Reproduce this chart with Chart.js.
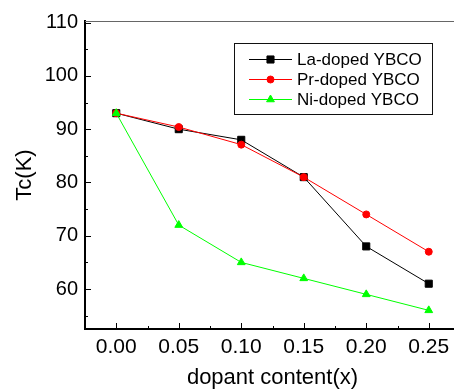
<!DOCTYPE html>
<html>
<head>
<meta charset="utf-8">
<script src="https://cdn.jsdelivr.net/npm/chart.js@4"></script>
<style>
  body { margin: 0; overflow: hidden; background: #fff; }
</style>
</head>
<body>
<canvas id="tcChart" width="466" height="390"></canvas>
<script>
const dopant = [0, 0.05, 0.10, 0.15, 0.20, 0.25];
const laDoped = [93, 90, 88, 81, 68, 61];
const prDoped = [93, 90.4, 87.1, 81, 74, 67];
const niDoped = [93, 72, 65, 62, 59, 56];
const seriesNames = ["La-doped YBCO", "Pr-doped YBCO", "Ni-doped YBCO"];
const xTicks = [0, 0.05, 0.10, 0.15, 0.20, 0.25];
const yTicks = [60, 70, 80, 90, 100, 110];
const xMinor = [0.025, 0.075, 0.125, 0.175, 0.225, 0.275];
const yMinor = [55, 65, 75, 85, 95, 105];

const FONT = "'Liberation Sans', Arial, sans-serif";
Chart.defaults.font.family = FONT;
Chart.defaults.color = "#000";

function pts(values) {
    return dopant.map((x, i) => ({ x: x, y: values[i] }));
}

// ticks point inward, plus the grey top frame line
const frameTicks = {
    id: "frameTicks",
    afterDraw(chart) {
        const { ctx, chartArea: a, scales: { x, y } } = chart;
        ctx.save();
        ctx.strokeStyle = "#666";
        ctx.lineWidth = 1;
        ctx.beginPath();
        ctx.moveTo(a.left, a.top + 0.5);
        ctx.lineTo(a.right, a.top + 0.5);
        ctx.stroke();

        ctx.strokeStyle = "#000";
        ctx.lineWidth = 1;
        ctx.beginPath();
        xTicks.forEach(v => {
            const px = Math.round(x.getPixelForValue(v)) + 0.5;
            ctx.moveTo(px, a.bottom);
            ctx.lineTo(px, a.bottom - 6);
        });
        xMinor.forEach(v => {
            const px = Math.round(x.getPixelForValue(v)) + 0.5;
            ctx.moveTo(px, a.bottom);
            ctx.lineTo(px, a.bottom - 3);
        });
        yTicks.forEach(v => {
            const py = Math.round(y.getPixelForValue(v)) + 0.5;
            ctx.moveTo(a.left, py);
            ctx.lineTo(a.left + 6, py);
        });
        yMinor.forEach(v => {
            const py = Math.round(y.getPixelForValue(v)) + 0.5;
            ctx.moveTo(a.left, py);
            ctx.lineTo(a.left + 3, py);
        });
        ctx.stroke();
        ctx.restore();
    }
};

// boxed legend with line + marker samples
const boxLegend = {
    id: "boxLegend",
    afterDraw(chart) {
        const ctx = chart.ctx;
        ctx.save();
        ctx.strokeStyle = "#111";
        ctx.lineWidth = 1;
        ctx.strokeRect(234.5, 43.5, 198, 71);
        ctx.font = "17px " + FONT;
        ctx.textBaseline = "middle";
        ctx.fillStyle = "#000";
        chart.data.datasets.forEach((ds, i) => {
            const cy = 59.5 + i * 20;
            ctx.strokeStyle = ds.borderColor;
            ctx.lineWidth = 1;
            ctx.beginPath();
            ctx.moveTo(249, cy);
            ctx.lineTo(292, cy);
            ctx.stroke();
            ctx.fillStyle = ds.pointBackgroundColor;
            ctx.strokeStyle = ds.pointBackgroundColor;
            Chart.helpers.drawPoint(ctx, {
                pointStyle: ds.pointStyle,
                radius: ds.pointRadius,
                borderWidth: 1,
                rotation: 0
            }, 270.5, cy);
            ctx.fillStyle = "#000";
            ctx.fillText(ds.label, 297, cy + 1);
        });
        ctx.restore();
    }
};

new Chart(document.getElementById("tcChart"), {
    type: "line",
    data: {
        datasets: [
            {
                label: seriesNames[0],
                data: pts(laDoped),
                borderColor: "#000",
                pointBackgroundColor: "#000",
                pointBorderColor: "#000",
                pointStyle: "rect",
                pointRadius: 5,
                borderWidth: 1,
                order: 2,
            },
            {
                label: seriesNames[1],
                data: pts(prDoped),
                borderColor: "#ff0000",
                pointBackgroundColor: "#ff0000",
                pointBorderColor: "#ff0000",
                pointStyle: "circle",
                pointRadius: 3.5,
                borderWidth: 1,
                order: 1,
            },
            {
                label: seriesNames[2],
                data: pts(niDoped),
                borderColor: "#00ff00",
                pointBackgroundColor: "#00ff00",
                pointBorderColor: "#00ff00",
                pointStyle: "triangle",
                pointRadius: 4.5,
                borderWidth: 1,
                order: 0,
            },
        ],
    },
    options: {
        responsive: false,
        animation: false,
        layout: { padding: { top: 21, right: 2, left: 0, bottom: 0 } },
        plugins: {
            legend: { display: false },
            tooltip: { enabled: false },
        },
        scales: {
            x: {
                type: "linear",
                min: -0.025,
                max: 0.275,
                afterFit: s => { s.height = 61; },
                afterBuildTicks: s => { s.ticks = xTicks.map(v => ({ value: v })); },
                grid: { display: false, drawTicks: false },
                border: { display: true, color: "#000", width: 2 },
                ticks: {
                    padding: 6,
                    maxRotation: 0,
                    font: { size: 21 },
                    callback: v => v.toFixed(2),
                },
                title: {
                    display: true,
                    text: "dopant content(x)",
                    font: { size: 22, lineHeight: 1.1 },
                    padding: { top: 0, bottom: 0 },
                },
            },
            y: {
                min: 52.5,
                max: 110.3,
                afterFit: s => { s.width = 85; },
                afterBuildTicks: s => { s.ticks = yTicks.map(v => ({ value: v })); },
                grid: { display: false, drawTicks: false },
                border: { display: true, color: "#000", width: 2 },
                ticks: {
                    padding: 7,
                    font: { size: 20 },
                },
                title: {
                    display: true,
                    text: "Tc(K)",
                    font: { size: 22, lineHeight: 1.2 },
                    padding: { top: 12, bottom: 0 },
                },
            },
        },
    },
    plugins: [frameTicks, boxLegend],
});
</script>
</body>
</html>
